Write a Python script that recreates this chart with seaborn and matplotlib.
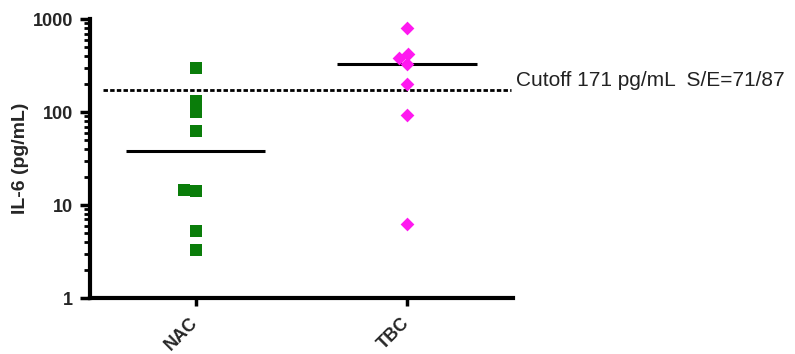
import numpy as np
import pandas as pd
import matplotlib
matplotlib.use("Agg")
import matplotlib.pyplot as plt
from matplotlib.ticker import NullFormatter
import seaborn as sns

# valeurs (pg/mL)
groups = ["NAC", "TBC"]
nac_values = [295, 133, 100, 62, 14.3, 14.6, 5.3, 3.3]
tbc_values = [798, 379, 418, 328, 203, 92, 6.3]
cutoff = 171
cutoff_label = "Cutoff 171 pg/mL  S/E=71/87"
y_ticks = [1, 10, 100, 1000]
y_tick_labels = ["1", "10", "100", "1000"]

df = pd.DataFrame({
    "group": ["NAC"] * len(nac_values) + ["TBC"] * len(tbc_values),
    "value": nac_values + tbc_values,
})

sns.set_style("ticks")
plt.rcParams["font.family"] = ["Liberation Sans", "DejaVu Sans"]

fig = plt.figure(figsize=(7.95, 3.54), dpi=100)
ax = fig.add_axes([0.113, 0.158, 0.532, 0.788])
ax.set_yscale("log")

sns.swarmplot(data=df[df["group"] == "NAC"], x="group", y="value", order=groups,
              marker="s", color="#0a7d0a", size=8, linewidth=0, ax=ax)
sns.swarmplot(data=df[df["group"] == "TBC"], x="group", y="value", order=groups,
              marker="D", color="#ff19f0", size=7, linewidth=0, ax=ax)

# médianes
medians = df.groupby("group")["value"].median()
for i, g in enumerate(groups):
    ax.hlines(medians[g], i - 0.33, i + 0.33, color="black", lw=2.2, zorder=1)

# seuil
ax.hlines(cutoff, -0.44, 1.49, color="black", lw=2, linestyles=(0, (1.6, 0.8)),
          clip_on=False, zorder=1)
ax.text(1.515, cutoff * 1.02, cutoff_label, fontsize=15, color="#222222",
        ha="left", va="bottom", transform=ax.transData, clip_on=False)

ax.set_xlim(-0.5, 1.5)
ax.set_ylim(1, 1000)
ax.set_yticks(y_ticks)
ax.set_yticklabels(y_tick_labels)
ax.yaxis.set_minor_formatter(NullFormatter())

ax.set_xlabel("")
ax.set_ylabel("IL-6 (pg/mL)", fontsize=14, fontweight="bold", labelpad=3)
for lab in ax.get_yticklabels():
    lab.set_fontweight("bold")
    lab.set_fontsize(13)
ax.set_xticks(range(len(groups)))
ax.set_xticklabels(groups, rotation=45, ha="right", va="center", rotation_mode="anchor",
                   fontsize=13, fontweight="bold")

sns.despine(ax=ax)
for side in ["left", "bottom"]:
    ax.spines[side].set_linewidth(3)
    ax.spines[side].set_color("black")
ax.tick_params(axis="y", which="major", length=7, width=2.5, color="black", pad=5)
ax.tick_params(axis="y", which="minor", length=4.5, width=2, color="black")
ax.tick_params(axis="x", which="major", length=6, width=2.5, color="black", pad=10)

fig.savefig("out.png", dpi=100)
